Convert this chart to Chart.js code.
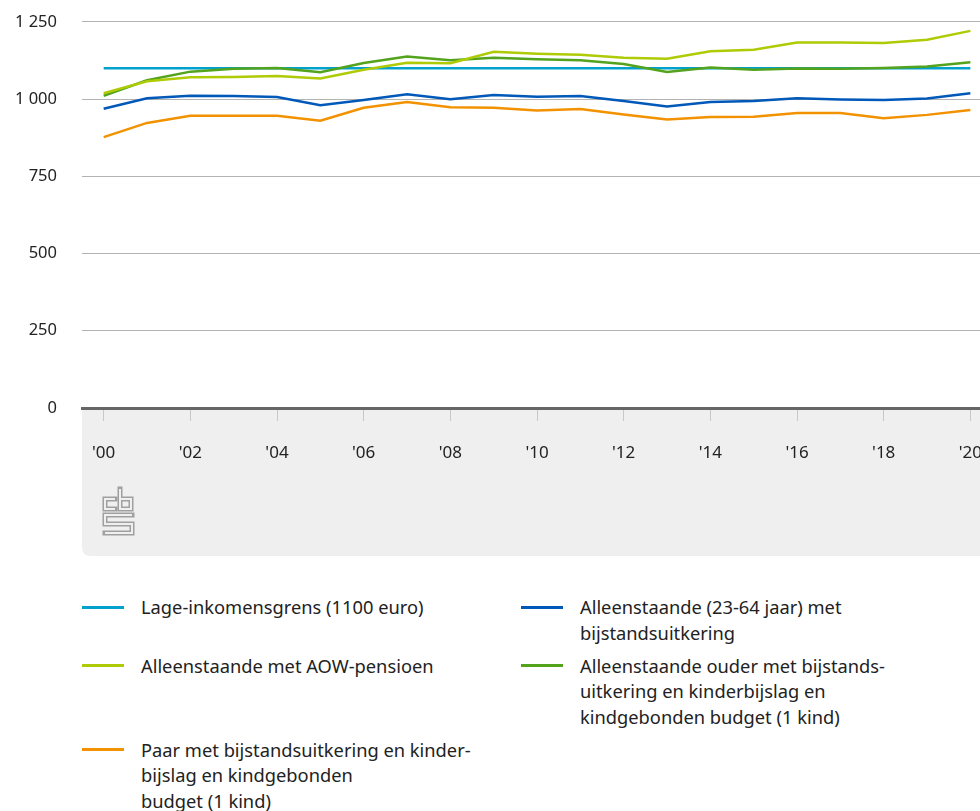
<!DOCTYPE html>
<html>
<head>
<meta charset="utf-8">
<script src="https://cdn.jsdelivr.net/npm/chart.js@4"></script>
<style>
  html, body { margin: 0; padding: 0; background: #fff; overflow: hidden; }
  body { width: 980px; height: 811px; font-family: "Noto Sans", sans-serif; color: #222; }
  #wrap { position: relative; width: 1004px; height: 569px; margin-top: -13px; }
  #chart { display: block; }
  #legend {
    display: grid;
    grid-template-columns: 439px 400px;
    row-gap: 7.5px;
    margin: 38px 0 0 82px;
    font-size: 18.3px;
    line-height: 25.5px;
  }
  .item { display: flex; align-items: flex-start; }
  .swatch { width: 42px; height: 3px; margin-top: 11.5px; margin-right: 17px; flex: none; }
</style>
</head>
<body>
<div id="wrap"><canvas id="chart" width="1004" height="569"></canvas></div>
<div id="legend"></div>
<script>
  const years = [2000, 2001, 2002, 2003, 2004, 2005, 2006, 2007, 2008, 2009, 2010,
    2011, 2012, 2013, 2014, 2015, 2016, 2017, 2018, 2019, 2020];
  const yTicks = [0, 250, 500, 750, 1000, 1250];

  const grens = [1100, 1100, 1100, 1100, 1100, 1100, 1100, 1100, 1100, 1100, 1100,
    1100, 1100, 1100, 1100, 1100, 1100, 1100, 1100, 1100, 1100];
  const alleenBijstand = [969, 1003, 1011, 1010, 1007, 980, 997, 1016, 1000, 1013, 1008,
    1010, 994, 976, 991, 994, 1003, 999, 997, 1002, 1019];
  const alleenAow = [1019, 1058, 1071, 1072, 1075, 1067, 1095, 1118, 1116, 1153, 1147,
    1144, 1134, 1131, 1155, 1160, 1183, 1183, 1182, 1192, 1221];
  const alleenOuder = [1011, 1061, 1089, 1098, 1101, 1087, 1117, 1138, 1126, 1134, 1129,
    1126, 1114, 1088, 1102, 1095, 1099, 1098, 1101, 1106, 1119];
  const paar = [877, 923, 946, 946, 946, 930, 972, 991, 974, 972, 963,
    968, 950, 934, 942, 943, 955, 955, 938, 949, 965];

  // legend text, split the way the original breaks its lines
  const series = [
    { lines: ['Lage-inkomensgrens (1100 euro)'], data: grens, color: '#00a1cd', order: 5 },
    { lines: ['Alleenstaande (23-64 jaar) met', 'bijstandsuitkering'], data: alleenBijstand, color: '#0058b8', order: 2 },
    { lines: ['Alleenstaande met AOW-pensioen'], data: alleenAow, color: '#afcb05', order: 3 },
    { lines: ['Alleenstaande ouder met bijstands-', 'uitkering en kinderbijslag en', 'kindgebonden budget (1 kind)'], data: alleenOuder, color: '#53a31d', order: 4 },
    { lines: ['Paar met bijstandsuitkering en kinder-', 'bijslag en kindgebonden', 'budget (1 kind)'], data: paar, color: '#f39200', order: 1 },
  ];

  function spaced(v) {
    return String(v).replace(/\B(?=(\d{3})+(?!\d))/g, ' ');
  }

  // grey band under the x axis plus the cbs mark
  const axisBand = {
    id: 'axisBand',
    beforeDraw(chart) {
      const { ctx, chartArea, scales } = chart;
      const top = chartArea.bottom;
      const bottom = scales.x.bottom;
      const left = chartArea.left;
      const right = chart.width;
      const r = 9;
      ctx.save();
      ctx.fillStyle = '#efefef';
      ctx.beginPath();
      ctx.moveTo(left, top);
      ctx.lineTo(right, top);
      ctx.lineTo(right, bottom);
      ctx.lineTo(left + r, bottom);
      ctx.quadraticCurveTo(left, bottom, left, bottom - r);
      ctx.closePath();
      ctx.fill();

      const ox = left + 21;
      const oy = top + 80;
      const paths = [
        [[12, 11], [2, 11], [2, 21], [12, 21]],
        [[17, 1], [17, 21], [28, 21], [28, 11], [17, 11]],
        [[29, 27], [2, 27], [2, 36], [29, 36], [29, 45], [2, 45]],
      ];
      const stroke = (w, c, cap) => {
        ctx.lineWidth = w;
        ctx.strokeStyle = c;
        ctx.lineCap = cap;
        ctx.lineJoin = 'miter';
        paths.forEach((p) => {
          ctx.beginPath();
          p.forEach(([x, y], i) => (i ? ctx.lineTo(ox + x, oy + y) : ctx.moveTo(ox + x, oy + y)));
          ctx.stroke();
        });
      };
      stroke(5, '#a0a0a0', 'square');
      stroke(2, '#efefef', 'butt');
      ctx.restore();
    },
  };

  new Chart(document.getElementById('chart'), {
    type: 'line',
    data: {
      labels: years,
      datasets: series.map((s) => ({
        label: s.lines.join(' '),
        data: s.data,
        borderColor: s.color,
        backgroundColor: s.color,
        borderWidth: 2.5,
        pointRadius: 0,
        tension: 0,
        order: s.order,
      })),
    },
    options: {
      responsive: false,
      animation: false,
      layout: { padding: { top: 9, left: 0, right: 0, bottom: 0 } },
      plugins: { legend: { display: false }, tooltip: { enabled: false } },
      scales: {
        x: {
          offset: true,
          afterFit: (s) => { s.height = 148; },
          border: { color: '#666', width: 3 },
          grid: {
            drawOnChartArea: false,
            drawTicks: true,
            tickLength: 13,
            lineWidth: 1,
            color: (c) => (c.index % 2 === 0 ? '#c8c8c8' : 'rgba(0,0,0,0)'),
          },
          ticks: {
            autoSkip: false,
            maxRotation: 0,
            padding: 22,
            color: '#222',
            font: { family: 'Noto Sans', size: 17 },
            callback: (v, i) => (i % 2 === 0 ? "'" + String(years[i]).slice(2) : ''),
          },
        },
        y: {
          min: 0,
          max: 1250,
          afterFit: (s) => { s.width = 82; },
          afterBuildTicks: (s) => { s.ticks = yTicks.map((v) => ({ value: v })); },
          border: { display: false },
          grid: {
            drawTicks: false,
            lineWidth: 1,
            color: (c) => (c.tick && c.tick.value === 0 ? 'rgba(0,0,0,0)' : '#b3b3b3'),
          },
          ticks: {
            padding: 25,
            color: '#222',
            font: { family: 'Noto Sans', size: 16.5 },
            callback: (v) => spaced(v),
          },
        },
      },
    },
    plugins: [axisBand],
  });

  const legend = document.getElementById('legend');
  series.forEach((s) => {
    const item = document.createElement('div');
    item.className = 'item';
    const sw = document.createElement('span');
    sw.className = 'swatch';
    sw.style.background = s.color;
    const txt = document.createElement('span');
    txt.innerHTML = s.lines.join('<br>');
    item.appendChild(sw);
    item.appendChild(txt);
    legend.appendChild(item);
  });
</script>
</body>
</html>
